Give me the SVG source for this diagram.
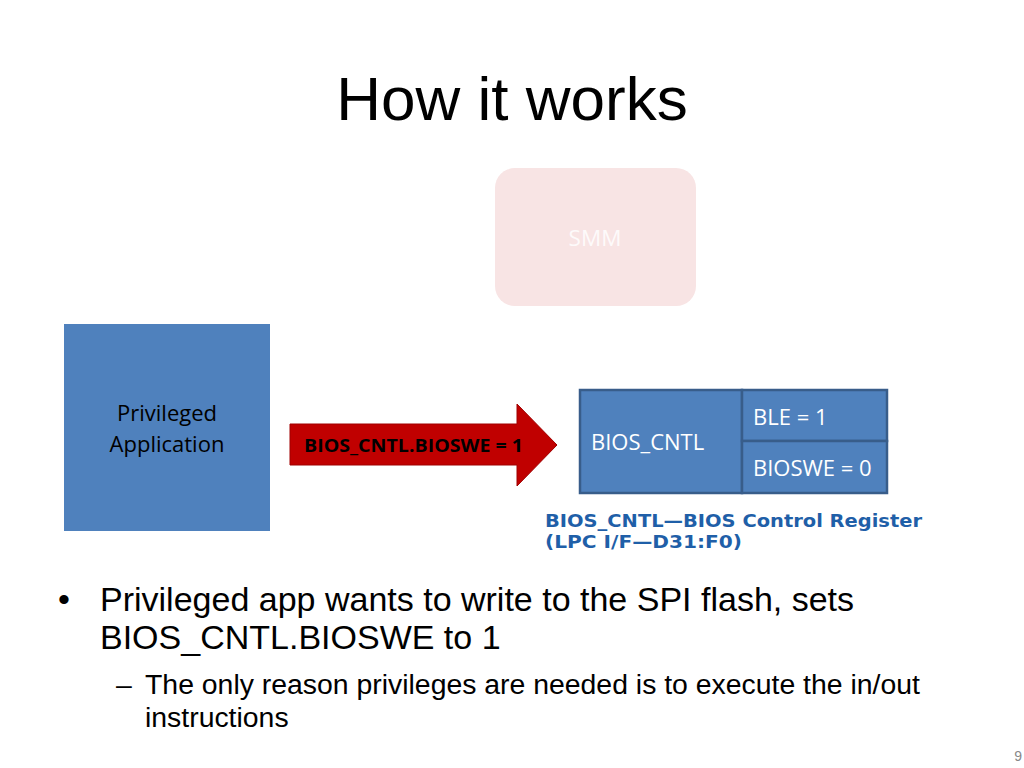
<svg xmlns="http://www.w3.org/2000/svg" width="1024" height="768" viewBox="0 0 1024 768">
<style>
.ar{font-family:"Liberation Sans",Arial,sans-serif}
.cb{font-family:"Open Sans","Noto Sans",sans-serif}
.blue{fill:#4f81bd}
.reg{fill:#4f81bd;stroke:#385d8a;stroke-width:2.5}
.wt{fill:#ffffff;font-size:22px}
</style>
<rect width="1024" height="768" fill="#ffffff"/>
<text class="ar" x="512" y="120" font-size="62" text-anchor="middle" fill="#000">How it works</text>
<g id="smm">
<rect x="495" y="168" width="201" height="138" rx="20" fill="#f8e4e4"/>
<text class="cb" x="595" y="246" font-size="22.5" text-anchor="middle" fill="#ffffff" fill-opacity="0.85">SMM</text>
</g>
<g id="app">
<rect class="blue" x="64" y="324" width="206" height="207"/>
<text class="cb" x="167" y="421" font-size="22" text-anchor="middle" fill="#000">Privileged</text>
<text class="cb" x="167" y="452" font-size="22" text-anchor="middle" fill="#000">Application</text>
</g>
<g id="connectors">
<polygon points="290,424 517,424 517,404 557,445 517,486 517,465 290,465" fill="#c00000" stroke="#a00000" stroke-width="1"/>
<text class="cb" x="304" y="452" font-size="17" font-weight="bold" textLength="219" lengthAdjust="spacingAndGlyphs" fill="#000">BIOS_CNTL.BIOSWE = 1</text>
</g>
<g id="bios_cntl">
<rect class="reg" x="580" y="390" width="162" height="103"/>
<text class="cb wt" x="591" y="450">BIOS_CNTL</text>
</g>
<g id="ble">
<rect class="reg" x="742" y="390" width="145" height="51"/>
<text class="cb wt" x="753" y="425">BLE = 1</text>
</g>
<g id="bioswe">
<rect class="reg" x="742" y="441" width="145" height="52"/>
<text class="cb wt" x="753" y="476">BIOSWE = 0</text>
</g>
<g id="caption" font-family="'DejaVu Sans',Verdana,sans-serif" font-weight="bold" font-size="18.5" fill="#1f5fa8">
<text x="545" y="527" textLength="377" lengthAdjust="spacingAndGlyphs">BIOS_CNTL—BIOS Control Register</text>
<text x="545" y="548" textLength="197" lengthAdjust="spacingAndGlyphs">(LPC I/F—D31:F0)</text>
</g>
<g id="bullets" class="ar" fill="#000">
<text x="58" y="611" font-size="34">•</text>
<text x="100" y="611" font-size="34">Privileged app wants to write to the SPI flash, sets</text>
<text x="100" y="649" font-size="34">BIOS_CNTL.BIOSWE to 1</text>
<text x="116" y="694" font-size="28.4">–</text>
<text x="145" y="694" font-size="28.4">The only reason privileges are needed is to execute the in/out</text>
<text x="145" y="727" font-size="28.4">instructions</text>
</g>
<text class="ar" x="1022" y="761" font-size="14" fill="#888" text-anchor="end">9</text>
</svg>
